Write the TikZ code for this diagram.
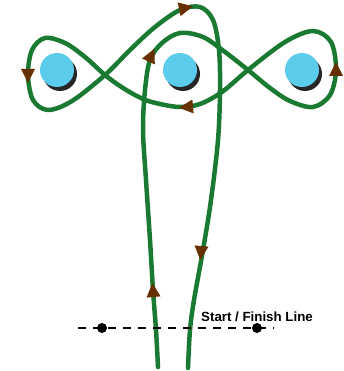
\documentclass[tikz,border=0pt]{standalone}
\usepackage{fontspec}
\newfontfamily\lblfont{Liberation Sans}
\definecolor{trackgreen}{RGB}{26,122,50}
\definecolor{tipbrown}{RGB}{102,48,0}
\definecolor{ballcyan}{RGB}{92,204,236}
\newcommand{\tiparrow}[3]{%
  \fill[tipbrown,shift={(#1,#2)},rotate=#3] (8,0) -- (-6,7) -- (-6,-7) -- cycle;}
\begin{document}
\begin{tikzpicture}[x=1pt,y=-1pt, every node/.style={font=\lblfont\bfseries\fontsize{13.3}{15}\selectfont}]
  \tikzstyle{track}=[draw=trackgreen,line width=4.5pt,line cap=round]
  \tikzstyle{ball}=[fill=ballcyan]
  \tikzstyle{shade}=[fill=black!85]
  \tikzstyle{dot}=[circle,fill=black,inner sep=0pt,minimum size=10pt]
  \useasboundingbox (0,0) rectangle (343,371);
  % balls
  \foreach \bx/\bn in {57/lb,180/mb,302/rb} {
    \fill[shade] (\bx+3,74) circle (17);
    \fill[ball] (\bx,70) circle (17);
  }
  % the track
  \draw[track] plot[smooth,tension=0.55] coordinates {
    (158,367) (156,330) (153,290) (150,240) (146,180) (143,130) (145,90)
    (150,60) (162,43) (180,33) (203,37) (225,52) (248,70) (270,88)
    (290,101) (313,107) (330,95) (336,70) (331,42) (313,31) (285,42)
    (248,70) (222,92) (200,104) (180,107) (160,104) (143,99) (123,88)
    (105,75) (85,57) (65,43) (45,38) (32,50) (28,75) (33,100) (48,110)
    (72,101) (105,75) (130,50) (155,27) (180,10) (200,7) (213,20)
    (219,50) (220,90) (218,140) (211,200) (203,250) (194,300) (190,330)
    (188,368)};
  % direction marks
  \tiparrow{153}{291}{95}
  \tiparrow{201}{252}{265}
  \tiparrow{151}{56}{65}
  \tiparrow{185}{8}{12}
  \tiparrow{28}{75}{270}
  \tiparrow{336}{70}{90}
  \tiparrow{187}{107}{185}
  % start / finish line
  \coordinate (dl) at (78,328);
  \coordinate (dr) at (274,328);
  \draw[line width=1.2pt,dash pattern=on 8pt off 7pt] (dl) -- (dr);
  \node[dot] (s1) at (102,328) {};
  \node[dot] (s2) at (257,328) {};
  \node (lbl) at (257,317) {Start / Finish Line};
\end{tikzpicture}
\end{document}
